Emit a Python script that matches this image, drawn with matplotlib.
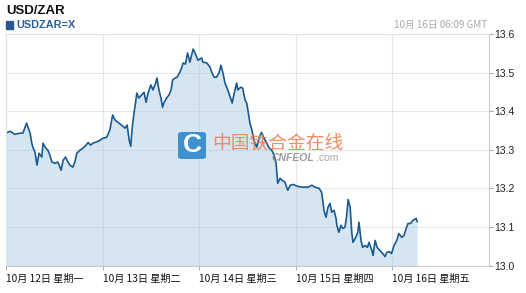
import matplotlib
matplotlib.use("Agg")
import matplotlib.pyplot as plt
from matplotlib.patches import FancyBboxPatch, Rectangle
import numpy as np

# ---- data (hours since 10月12日 00:00 GMT, USD/ZAR rate) ----
hours = [
    0.0, 1.0, 2.2, 3.5, 4.2, 5.1, 6.0, 6.4, 6.7, 7.2,
    7.7, 8.2, 8.9, 9.2, 9.9, 10.4, 10.9, 11.4, 12.2, 12.9,
    13.7, 14.2, 14.8, 15.4, 15.9, 16.6, 17.1, 17.6, 18.4, 19.1,
    19.9, 20.4, 21.0, 21.6, 22.9, 23.4, 24.1, 25.0, 25.8, 26.5,
    27.1, 27.8, 28.7, 29.6, 30.1, 30.6, 31.0, 31.3, 31.8, 32.2,
    32.5, 33.0, 33.7, 34.3, 34.8, 35.3, 36.0, 36.5, 37.2, 37.5,
    38.0, 38.5, 38.9, 39.3, 39.9, 40.5, 41.0, 41.4, 42.0, 42.5,
    43.2, 43.7, 44.0, 44.6, 45.1, 45.7, 46.1, 46.5, 47.2, 47.7,
    48.6, 48.9, 49.9, 50.7, 51.1, 51.7, 52.3, 52.9, 53.4, 53.9,
    54.4, 55.1, 55.7, 56.2, 56.6, 57.3, 57.6, 58.3, 58.8, 59.4,
    59.8, 60.1, 60.6, 61.1, 61.6, 62.3, 62.9, 63.5, 64.1, 64.8,
    65.3, 66.0, 66.6, 67.1, 67.5, 68.1, 68.6, 69.3, 70.0, 70.6,
    71.3, 72.5, 73.8, 75.0, 76.0, 76.8, 77.8, 78.4, 78.8, 79.0,
    79.5, 80.0, 80.5, 80.9, 81.5, 82.0, 82.2, 82.7, 83.2, 83.7,
    84.2, 84.6, 85.0, 85.5, 85.9, 86.2, 86.9, 87.4, 87.7, 88.2,
    88.6, 89.2, 89.8, 90.2, 90.9, 91.2, 91.7, 92.2, 92.9, 93.6,
    94.2, 94.6, 95.2, 95.8, 96.4, 97.1, 97.6, 98.3, 98.9, 99.4,
    99.9, 100.5, 101.1, 101.9, 102.15,
]
usdzar = [
    13.343, 13.348, 13.340, 13.343, 13.343, 13.369, 13.343, 13.317, 13.306, 13.294,
    13.260, 13.291, 13.281, 13.317, 13.304, 13.299, 13.286, 13.268, 13.265, 13.268,
    13.247, 13.273, 13.281, 13.268, 13.260, 13.255, 13.268, 13.291, 13.299, 13.304,
    13.312, 13.319, 13.312, 13.317, 13.322, 13.325, 13.330, 13.332, 13.351, 13.390,
    13.377, 13.371, 13.364, 13.356, 13.364, 13.325, 13.309, 13.351, 13.395, 13.423,
    13.447, 13.434, 13.442, 13.449, 13.423, 13.447, 13.468, 13.455, 13.473, 13.486,
    13.455, 13.434, 13.410, 13.423, 13.434, 13.442, 13.455, 13.481, 13.486, 13.488,
    13.501, 13.514, 13.525, 13.522, 13.551, 13.527, 13.545, 13.561, 13.545, 13.532,
    13.538, 13.527, 13.525, 13.514, 13.501, 13.488, 13.488, 13.499, 13.519, 13.499,
    13.473, 13.455, 13.436, 13.421, 13.442, 13.473, 13.455, 13.462, 13.460, 13.429,
    13.421, 13.403, 13.369, 13.351, 13.325, 13.306, 13.332, 13.345, 13.330, 13.317,
    13.306, 13.299, 13.286, 13.265, 13.213, 13.226, 13.221, 13.216, 13.195, 13.208,
    13.210, 13.205, 13.203, 13.203, 13.208, 13.203, 13.200, 13.190, 13.161, 13.143,
    13.125, 13.151, 13.161, 13.138, 13.143, 13.122, 13.104, 13.086, 13.104, 13.096,
    13.099, 13.125, 13.171, 13.151, 13.086, 13.060, 13.073, 13.086, 13.112, 13.065,
    13.047, 13.052, 13.047, 13.060, 13.039, 13.026, 13.065, 13.047, 13.039, 13.031,
    13.023, 13.034, 13.036, 13.031, 13.052, 13.065, 13.083, 13.073, 13.078, 13.096,
    13.109, 13.109, 13.117, 13.122, 13.114,
]
assert len(hours) == len(usdzar)

day_ticks = [0, 24, 48, 72, 96]
day_labels = ["10月 12日 星期一", "10月 13日 星期二", "10月 14日 星期三",
              "10月 15日 星期四", "10月 16日 星期五"]
y_ticks = [13.0, 13.1, 13.2, 13.3, 13.4, 13.5, 13.6]
y_labels = ["13.0", "13.1", "13.2", "13.3", "13.4", "13.5", "13.6"]

CJK = ["Noto Sans CJK SC", "DejaVu Sans"]
LAT = ["Liberation Sans", "DejaVu Sans"]

W, H = 526, 293
fig = plt.figure(figsize=(W / 100, H / 100), dpi=100)
fig.patch.set_facecolor("white")

L, R, T, B = 6, 489, 34, 265.5
ax = fig.add_axes([L / W, 1 - B / H, (R - L) / W, (B - T) / H])
ax.set_xlim(0, 120)
ax.set_ylim(13.0, 13.6)

line_c = "#1b5a8f"
fill_c = "#d5e6f1"
ax.fill_between(hours, usdzar, 13.0, color=fill_c, linewidth=0, zorder=1)
ax.plot(hours, usdzar, color=line_c, linewidth=1.2, zorder=2)

ax.set_axisbelow("line")
ax.grid(True, color="#b9c9d6", alpha=0.4, linewidth=0.8)

ax.set_xticks(day_ticks)
ax.set_xticklabels(day_labels, ha="left", fontsize=7.3, family=CJK, color="#111111")
ax.set_yticks(y_ticks)
ax.set_yticklabels(y_labels, fontsize=7.5, family=LAT, color="#222222")
ax.yaxis.tick_right()
ax.tick_params(axis="y", length=3, width=0.6, color="#999999", pad=1)
ax.tick_params(axis="x", length=3, width=0.6, color="#999999", pad=3)

for side in ["top", "left"]:
    ax.spines[side].set_color("#e2e2e2")
    ax.spines[side].set_linewidth(0.8)
ax.spines["right"].set_color("#c8ccd0")
ax.spines["right"].set_linewidth(0.8)
ax.spines["bottom"].set_color("#c8ccd0")
ax.spines["bottom"].set_linewidth(0.8)

# ---- header texts ----
fig.text(6 / W, 1 - 11.5 / H, "USD/ZAR", fontsize=9.5, fontweight="bold",
         family=LAT, color="#111111", va="center", ha="left")
fig.patches.append(Rectangle((6 / W, 1 - 29 / H), 7 / W, 8 / H,
                             transform=fig.transFigure, color="#24588f"))
fig.text(16.5 / W, 1 - 25 / H, "USDZAR=X", fontsize=7.8, fontweight="bold",
         family=LAT, color="#2a5f98", va="center", ha="left")
fig.text(487 / W, 1 - 25 / H, "10月 16日 06:09 GMT", fontsize=7, family=CJK,
         color="#aaaaaa", va="center", ha="right")

# ---- watermark ----
logo = FancyBboxPatch((178 / W, 1 - 159 / H), 28 / W, 27 / H,
                      boxstyle="round,pad=0,rounding_size=0.008",
                      transform=fig.transFigure, facecolor="#2f87c9",
                      edgecolor="none", alpha=0.9, zorder=5)
fig.patches.append(logo)
fig.text(192.5 / W, 1 - 145.5 / H, "C", fontsize=19, fontweight="bold",
         family=LAT, color="white", ha="center", va="center", zorder=6)
fig.text(212 / W, 1 - 142.5 / H, "中国铁合金在线", fontsize=13.5,
         family=CJK, color="#ef7a4a", alpha=0.85, ha="left", va="center", zorder=6)
fig.text(272 / W, 1 - 158 / H, "CNFEOL", fontsize=7.5, fontweight="bold",
         style="italic", family=LAT, color="#8a8a8a", alpha=0.85,
         ha="left", va="center", zorder=6)
fig.text(316 / W, 1 - 158 / H, ".com", fontsize=7.5, family=LAT,
         color="#9a9a9a", alpha=0.85, ha="left", va="center", zorder=6)

fig.savefig("out.png", dpi=100)
